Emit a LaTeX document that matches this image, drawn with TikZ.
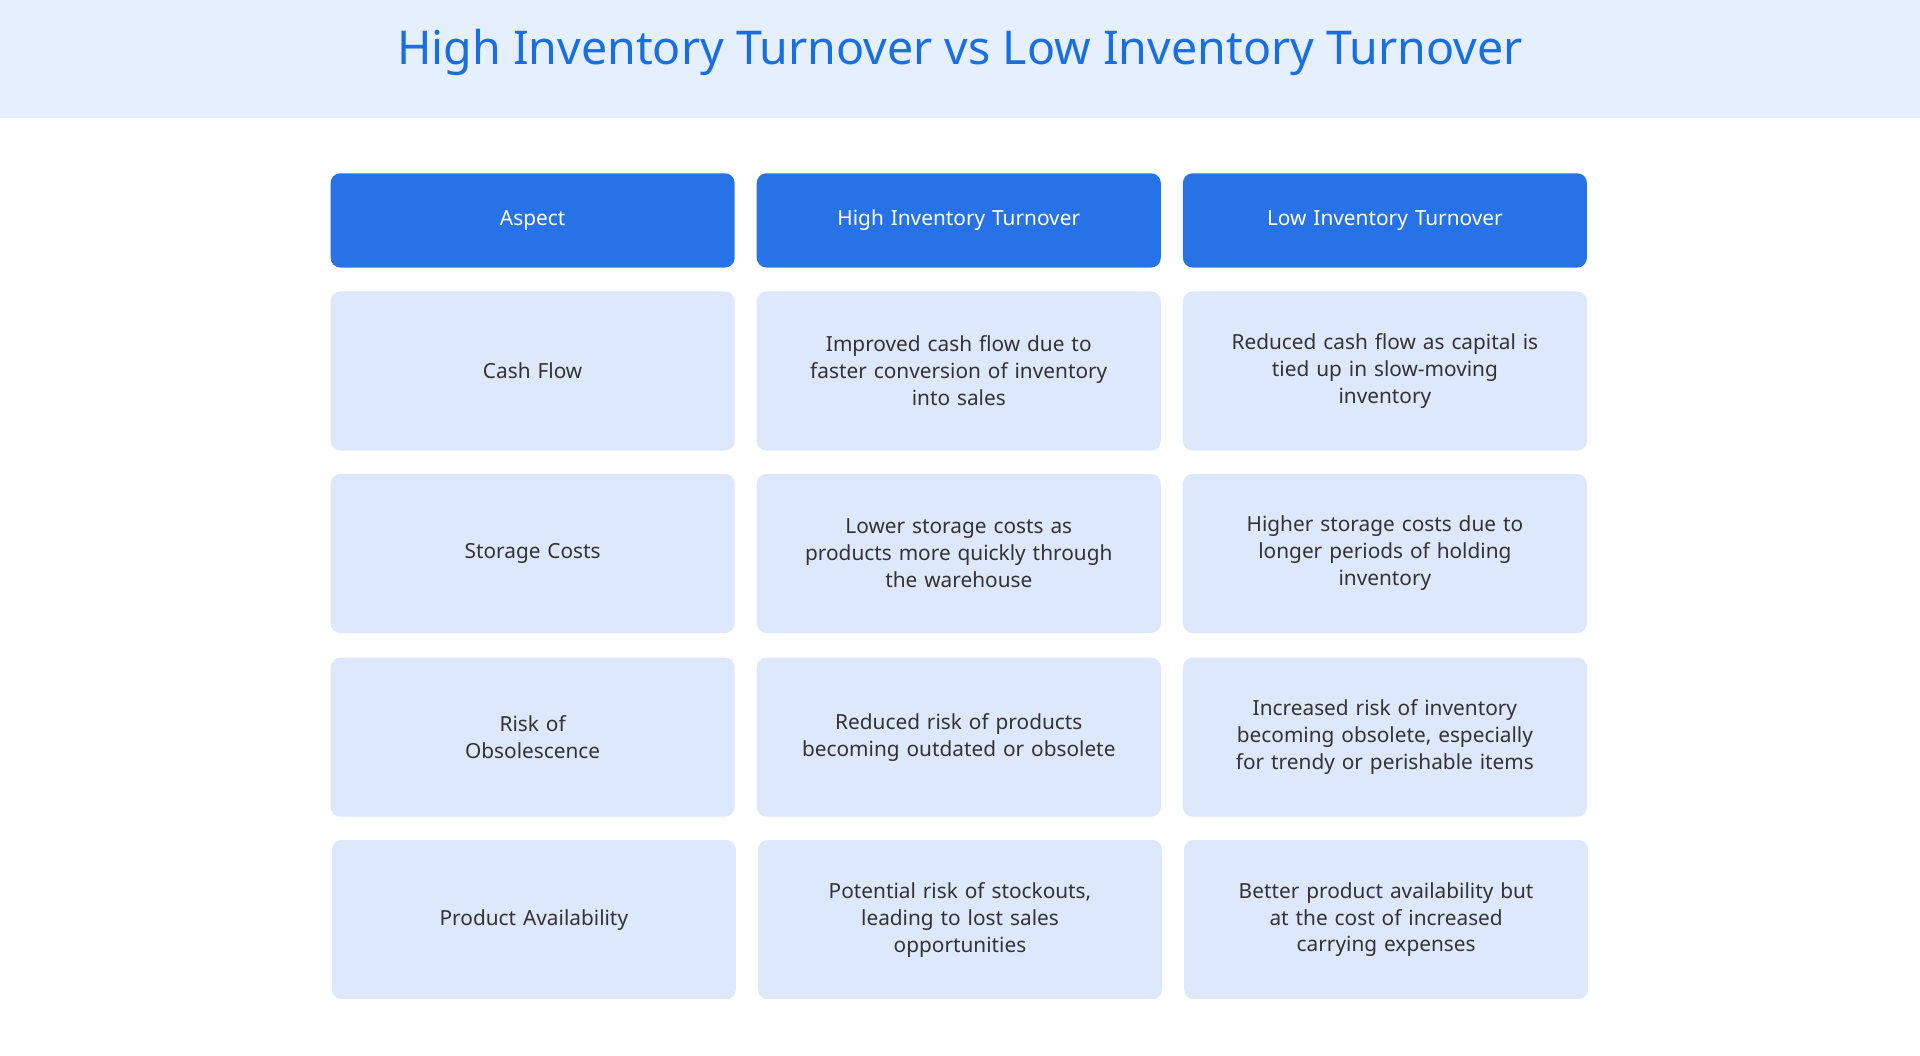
\documentclass[tikz,border=0pt]{standalone}
\usepackage{fontspec}
\setmainfont{Noto Sans}
\definecolor{band}{HTML}{E6EFFD}
\definecolor{titleblue}{HTML}{1A6FE0}
\definecolor{headblue}{HTML}{2872E8}
\definecolor{cellfill}{HTML}{DEE8FC}
\definecolor{txt}{HTML}{333333}
\begin{document}
\begin{tikzpicture}[x=1pt,y=-1pt,
  cellbox/.style={fill=cellfill,rounded corners=8pt,minimum width=330pt,minimum height=130pt,inner sep=0pt,
    text width=290pt,align=center,text=txt,font=\fontsize{17}{22}\selectfont},
  headbox/.style={fill=headblue,rounded corners=8pt,minimum width=330pt,minimum height=77pt,inner sep=0pt,
    text width=300pt,align=center,text=white,font=\fontsize{17}{22}\selectfont}]
\useasboundingbox (0,0) rectangle (1568,862);
\fill[white] (0,0) rectangle (1568,862);
\fill[band] (0,0) rectangle (1568,96);
\node[text=titleblue,font=\fontsize{38}{44}\selectfont] (title) at (784,43) {High Inventory Turnover vs Low Inventory Turnover};
\node[headbox] (h1) at (435,180) {Aspect};
\node[headbox] (h2) at (783,180) {High Inventory Turnover};
\node[headbox] (h3) at (1131,180) {Low Inventory Turnover};
\node[cellbox] (a1) at (435,303) {Cash Flow};
\node[cellbox] (b1) at (783,303) {Improved cash flow due to\\faster conversion of inventory\\into sales};
\node[cellbox] (c1) at (1131,303) {Reduced cash flow as capital is\\tied up in slow-moving\\inventory};
\node[cellbox] (a2) at (435,452) {Storage Costs};
\node[cellbox] (b2) at (783,452) {Lower storage costs as\\products more quickly through\\the warehouse};
\node[cellbox] (c2) at (1131,452) {Higher storage costs due to\\longer periods of holding\\inventory};
\node[cellbox] (a3) at (435,602) {Risk of\\Obsolescence};
\node[cellbox] (b3) at (783,602) {Reduced risk of products\\becoming outdated or obsolete};
\node[cellbox] (c3) at (1131,602) {Increased risk of inventory\\becoming obsolete, especially\\for trendy or perishable items};
\node[cellbox] (a4) at (436,751) {Product Availability};
\node[cellbox] (b4) at (784,751) {Potential risk of stockouts,\\leading to lost sales\\opportunities};
\node[cellbox] (c4) at (1132,751) {Better product availability but\\at the cost of increased\\carrying expenses};
\end{tikzpicture}
\end{document}
